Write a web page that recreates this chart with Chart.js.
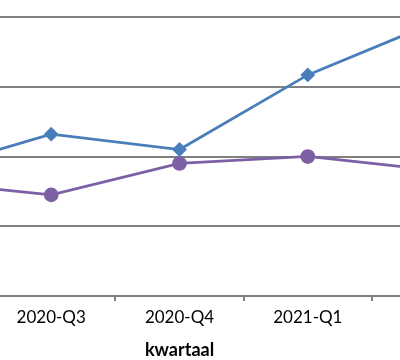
<!DOCTYPE html>
<html>
<head>
<meta charset="utf-8">
<script src="https://cdn.jsdelivr.net/npm/chart.js@4/dist/chart.umd.min.js"></script>
<style>
  html, body { margin: 0; padding: 0; background: #fff; }
  #view { position: relative; width: 400px; height: 360px; overflow: hidden; }
  #wrap { position: absolute; left: -150px; top: 0; }
</style>
</head>
<body>
<div id="view"><div id="wrap"><canvas id="c" width="659" height="363"></canvas></div></div>
<script>
const categories = ['2020-Q2', '2020-Q3', '2020-Q4', '2021-Q1', '2021-Q2'];
const seriesBlue = [17.8, 23.2, 21.0, 31.7, 39.3];
const seriesPurple = [16.4, 14.5, 19.0, 20.0, 18.0];
const yTicks = [0, 10, 20, 30, 40];

new Chart(document.getElementById('c'), {
  type: 'line',
  data: {
    labels: categories,
    datasets: [
      {
        label: 'Reeks 1',
        data: seriesBlue,
        borderColor: '#4a7ebb',
        backgroundColor: '#4a7ebb',
        borderWidth: 2.75,
        pointStyle: 'rectRot',
        pointRadius: 5.5,
        pointHoverRadius: 5.5,
        tension: 0
      },
      {
        label: 'Reeks 2',
        data: seriesPurple,
        borderColor: '#7d5fa5',
        backgroundColor: '#7d5fa5',
        borderWidth: 2.75,
        pointStyle: 'circle',
        pointRadius: 6,
        pointHoverRadius: 6,
        tension: 0
      }
    ]
  },
  options: {
    responsive: false,
    animation: false,
    devicePixelRatio: 1,
    layout: { padding: { top: 17, left: 0, right: 0, bottom: 0 } },
    plugins: { legend: { display: false }, tooltip: { enabled: false } },
    scales: {
      x: {
        offset: true,
        grid: { drawOnChartArea: false, drawTicks: true, tickLength: 5, color: '#808080', lineWidth: 2, offset: true },
        border: { display: true, color: '#808080', width: 2 },
        ticks: { autoSkip: false, maxRotation: 0, color: '#000', padding: 6, font: { family: 'Lato', size: 17 } },
        title: { display: true, text: 'kwartaal', color: '#000', font: { family: 'Lato', size: 18, weight: 'bold' }, padding: { top: 6, bottom: 2 } }
      },
      y: {
        min: 0, max: 40,
        afterBuildTicks: (s) => { s.ticks = yTicks.map(v => ({ value: v })); },
        ticks: { display: false },
        grid: { drawTicks: false, color: '#808080', lineWidth: 2 },
        border: { display: false }
      }
    }
  }
});
</script>
</body>
</html>
